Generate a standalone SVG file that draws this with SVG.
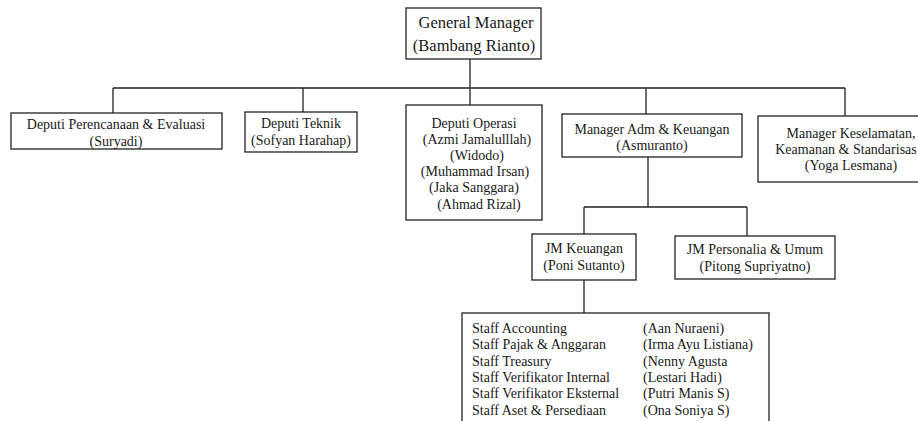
<svg xmlns="http://www.w3.org/2000/svg" width="918" height="421" viewBox="0 0 918 421">
<style>
.box{fill:#fff;stroke:#222;stroke-width:1.3}
.ln{stroke:#222;stroke-width:1.3;fill:none}
text{font-size:14px;fill:#1a1a1a}
.c{text-anchor:middle}
.gm{font-size:16.5px}
</style>
<rect width="918" height="421" fill="#fff"/>
<g id="connectors">
<path class="ln" d="M470 59V88M113 88H845M113 88V113M303 88V112M470 88V105M646 88V114M845 88V116"/>
<path class="ln" d="M648 157V207M584 207H747M584 207V234M747 207V236M584 280V313"/>
</g>
<g font-family="Liberation Serif, serif">
<g id="gm">
<rect class="box" x="406" y="8" width="135" height="51"/>
<text class="c gm" x="476" y="28">General Manager</text>
<text class="c gm" x="474" y="51">(Bambang Rianto)</text>
</g>
<g id="deputi-perencanaan">
<rect class="box" x="11" y="113" width="211" height="36"/>
<text class="c" x="116" y="129">Deputi Perencanaan &amp; Evaluasi</text>
<text class="c" x="116" y="146">(Suryadi)</text>
</g>
<g id="deputi-teknik">
<rect class="box" x="245" y="112" width="112" height="40"/>
<text class="c" x="301" y="128">Deputi Teknik</text>
<text class="c" x="301" y="145">(Sofyan Harahap)</text>
</g>
<g id="deputi-operasi">
<rect class="box" x="406" y="105" width="136" height="115"/>
<text class="c" x="474" y="128">Deputi Operasi</text>
<text class="c" x="477" y="144">(Azmi Jamalulllah)</text>
<text class="c" x="477" y="160">(Widodo)</text>
<text class="c" x="475" y="176">(Muhammad Irsan)</text>
<text class="c" x="474" y="192">(Jaka Sanggara)</text>
<text class="c" x="479" y="209">(Ahmad Rizal)</text>
</g>
<g id="manager-adm">
<rect class="box" x="562" y="114" width="180" height="43"/>
<text class="c" x="652" y="134">Manager Adm &amp; Keuangan</text>
<text class="c" x="652" y="150">(Asmuranto)</text>
</g>
<g id="manager-keselamatan">
<rect class="box" x="758" y="116" width="170" height="66"/>
<text class="c" x="851" y="138">Manager Keselamatan,</text>
<text class="c" x="846" y="154">Keamanan &amp; Standarisas</text>
<text class="c" x="851" y="170">(Yoga Lesmana)</text>
</g>
<g id="jm-keuangan">
<rect class="box" x="532" y="234" width="104" height="46"/>
<text class="c" x="584" y="253">JM Keuangan</text>
<text class="c" x="584" y="270">(Poni Sutanto)</text>
</g>
<g id="jm-personalia">
<rect class="box" x="675" y="236" width="160" height="43"/>
<text class="c" x="755" y="254">JM Personalia &amp; Umum</text>
<text class="c" x="755" y="271">(Pitong Supriyatno)</text>
</g>
<g id="staff">
<rect class="box" x="462" y="313" width="307" height="120"/>
<text x="472" y="333">Staff Accounting</text>
<text x="472" y="349">Staff Pajak &amp; Anggaran</text>
<text x="472" y="366">Staff Treasury</text>
<text x="472" y="382">Staff Verifikator Internal</text>
<text x="472" y="398">Staff Verifikator Eksternal</text>
<text x="472" y="415">Staff Aset &amp; Persediaan</text>
<text x="643" y="333">(Aan Nuraeni)</text>
<text x="643" y="349">(Irma Ayu Listiana)</text>
<text x="643" y="366">(Nenny Agusta</text>
<text x="643" y="382">(Lestari Hadi)</text>
<text x="643" y="398">(Putri Manis S)</text>
<text x="643" y="415">(Ona Soniya S)</text>
</g>
</g>
</svg>
